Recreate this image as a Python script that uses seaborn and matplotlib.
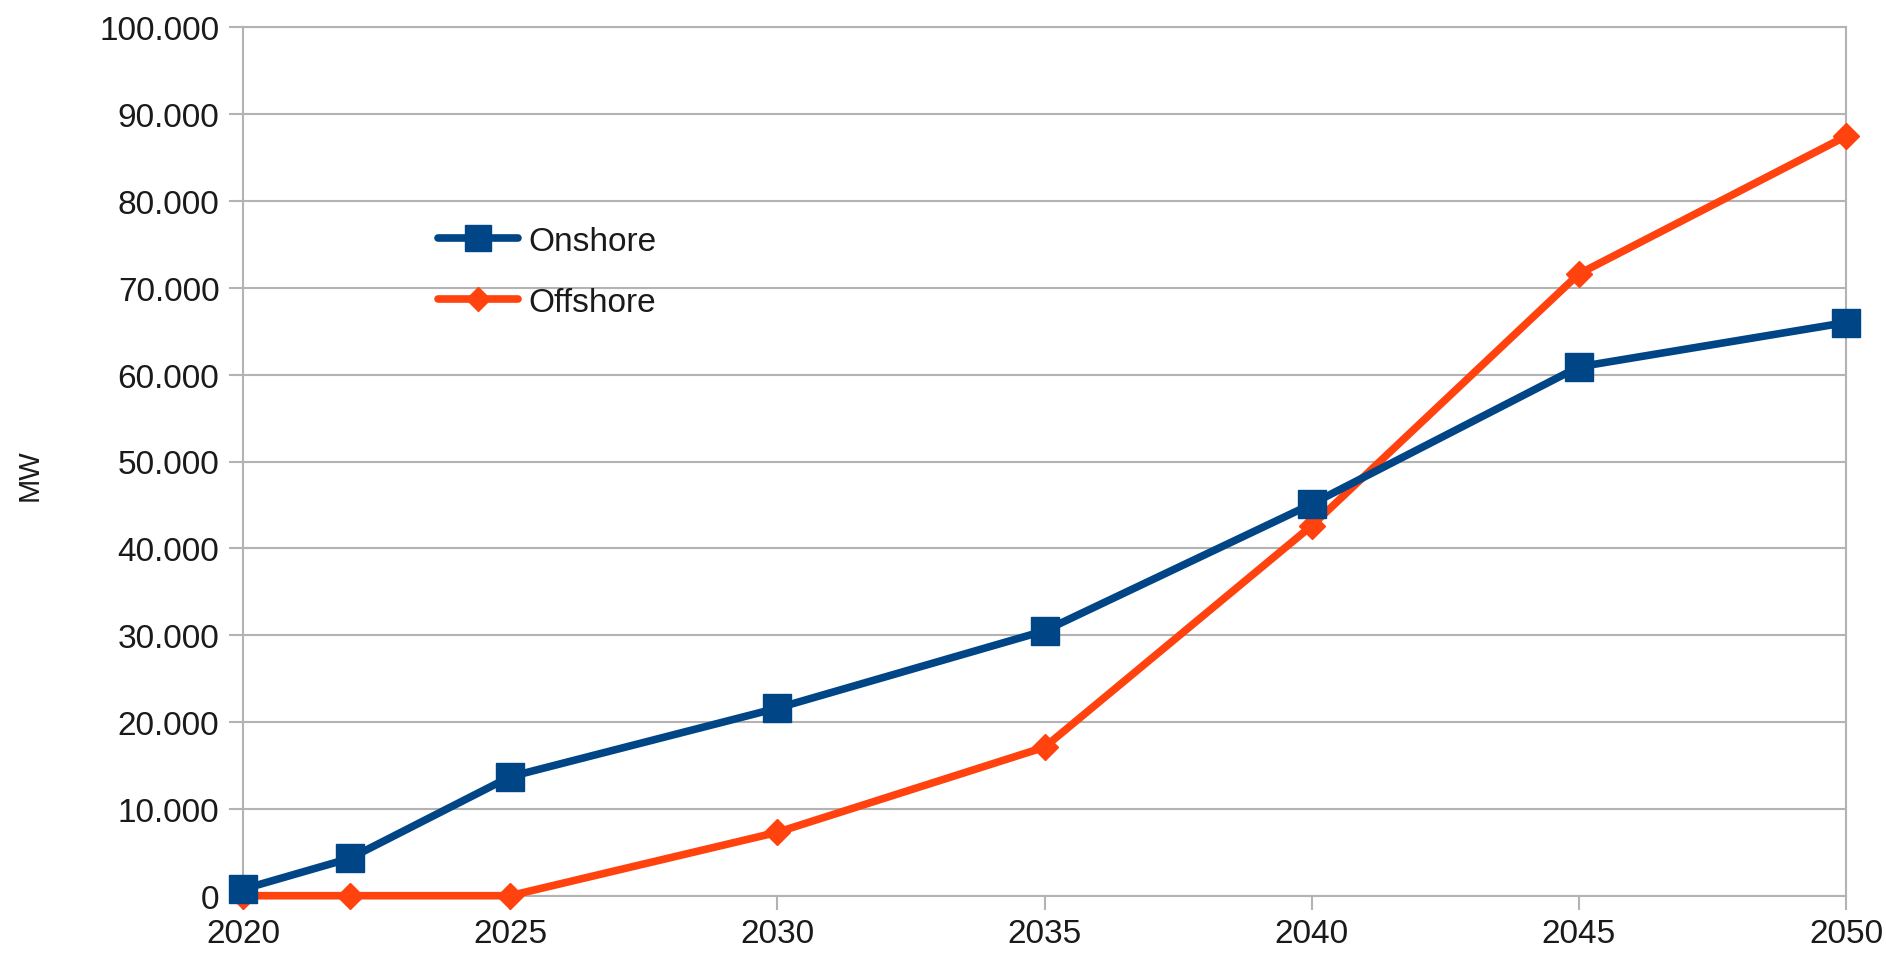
import matplotlib
matplotlib.use("Agg")
import matplotlib.pyplot as plt
import matplotlib.ticker as mticker
import seaborn as sns

years = [2020, 2022, 2025, 2030, 2035, 2040, 2045, 2050]
onshore = [750, 4300, 13700, 21600, 30500, 45100, 60900, 66000]
offshore = [0, 0, 0, 7300, 17100, 42600, 71600, 87450]
series_names = ["Onshore", "Offshore"]
colors = ["#004586", "#ff420e"]
x_ticks = [2020, 2025, 2030, 2035, 2040, 2045, 2050]
y_ticks = list(range(0, 100001, 10000))

sns.set_theme(style="white")
plt.rcParams["font.family"] = ["Liberation Sans", "DejaVu Sans"]

W, H = 1886, 954
fig = plt.figure(figsize=(W / 100, H / 100), dpi=100)
ax = fig.add_axes([243 / W, 1 - 896.7 / H, (1846 - 243) / W, (896.7 - 28.3) / H])

sns.lineplot(x=years, y=onshore, ax=ax, color=colors[0], marker="s",
             markersize=20, markeredgecolor=colors[0], markeredgewidth=1,
             linewidth=5.5, label=series_names[0], clip_on=False, zorder=4)
sns.lineplot(x=years, y=offshore, ax=ax, color=colors[1], marker="D",
             markersize=13, markeredgecolor=colors[1], markeredgewidth=1,
             linewidth=5.5, label=series_names[1], clip_on=False, zorder=3)

ax.set_xlim(2020, 2050)
ax.set_ylim(0, 100000)
ax.set_xticks(x_ticks)
ax.set_yticks(y_ticks)
ax.yaxis.set_major_formatter(mticker.FuncFormatter(lambda v, p: f"{int(v):,}".replace(",", ".")))
ax.grid(axis="y", color="#b3b3b3", linewidth=1.5)
ax.grid(axis="x", visible=False)
for s in ax.spines.values():
    s.set_color("#b3b3b3")
    s.set_linewidth(1.5)
ax.tick_params(axis="both", which="major", labelsize=24, colors="#b3b3b3",
               labelcolor="#1a1a1a", length=10, width=1.5, direction="out")
ax.tick_params(axis="x", pad=6, bottom=True)
ax.tick_params(axis="y", pad=7, left=True)

ax.set_ylabel("MW", fontsize=21, color="#1a1a1a")
ax.yaxis.set_label_coords((44 - 243) / 1603, (897 - 475) / 868.4)

ax.legend(loc="upper left", bbox_to_anchor=(438 / W, 1 - 227 / H),
          bbox_transform=fig.transFigure, frameon=False, fontsize=24,
          handlelength=2.4, handletextpad=0.3, labelspacing=0.9,
          borderpad=0, borderaxespad=0, markerscale=0.95)
for t in ax.get_legend().get_texts():
    t.set_color("#1a1a1a")

fig.savefig("out.png", dpi=100, facecolor="white")
